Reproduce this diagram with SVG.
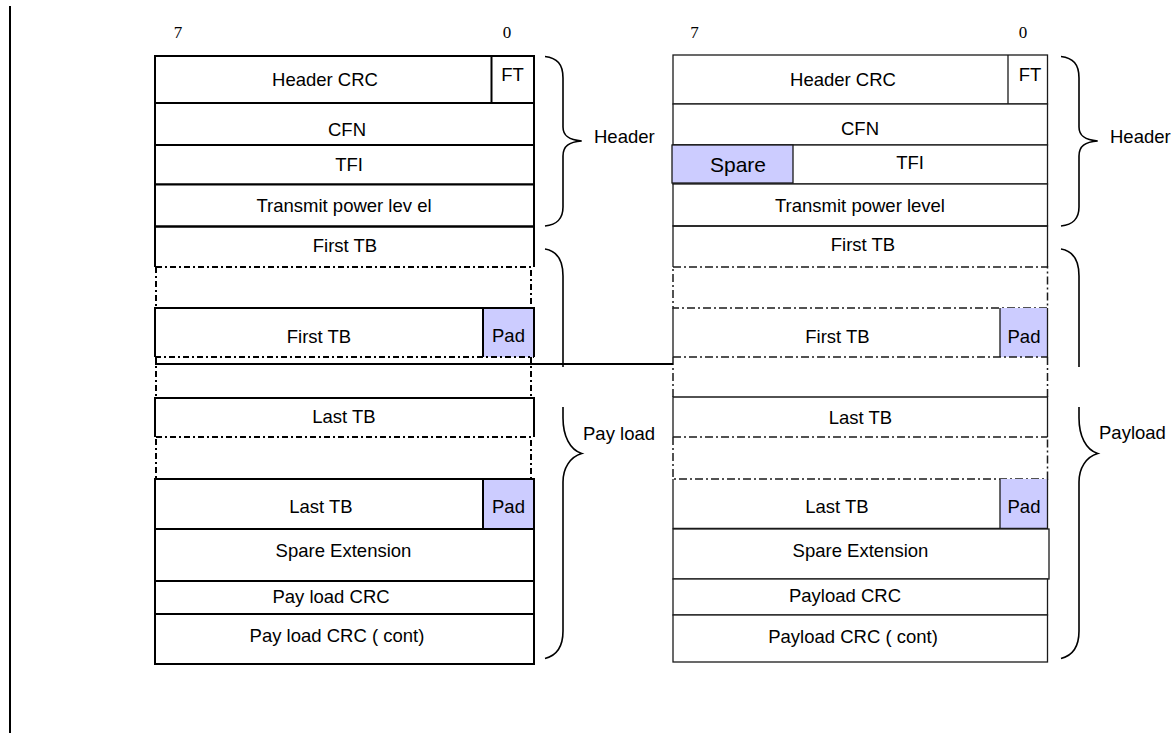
<svg xmlns="http://www.w3.org/2000/svg" width="1173" height="733" viewBox="0 0 1173 733">
  <style>
    .bg { fill: #ffffff; }
    .cellL { fill: #ffffff; stroke: #000000; stroke-width: 2; }
    .cellR { fill: #ffffff; stroke: #1a1a1a; stroke-width: 1.3; }
    .openL { fill: none; stroke: #000000; stroke-width: 2; }
    .openR { fill: none; stroke: #1a1a1a; stroke-width: 1.3; }
    .dashL { fill: none; stroke: #000000; stroke-width: 2; stroke-dasharray: 6 3 2 3; }
    .dashR { fill: none; stroke: #1a1a1a; stroke-width: 1.5; stroke-dasharray: 8 3 2 3; }
    .pad { fill: #ccccff; }
    .padL { fill: #ccccff; stroke: #000000; stroke-width: 2; }
    .padR { fill: #ccccff; stroke: #1a1a1a; stroke-width: 1.3; }
    .brace { fill: none; stroke: #000000; stroke-width: 1.6; }
    .rule { stroke: #000000; stroke-width: 2; }
    .t { font-family: "Liberation Sans", Arial, sans-serif; font-size: 18.5px; fill: #000000; text-anchor: middle; }
    .lbl { font-family: "Liberation Sans", Arial, sans-serif; font-size: 18.5px; fill: #000000; }
    .big { font-family: "Liberation Sans", Arial, sans-serif; font-size: 21px; fill: #000000; text-anchor: middle; }
    .bit { font-family: "Liberation Serif", "Times New Roman", serif; font-size: 17px; fill: #000000; text-anchor: middle; }
  </style>

  <rect class="bg" x="0" y="0" width="1173" height="733"/>

  <!-- margin rule on the far left -->
  <line class="rule" x1="10" y1="6" x2="10" y2="733"/>

  <!-- ===== Left frame layout ===== -->
  <g id="left-frame">
    <text class="bit" x="178" y="38">7</text>
    <text class="bit" x="507" y="38">0</text>

    <g id="L-header-crc">
      <rect class="cellL" x="155" y="56" width="379" height="47"/>
      <line class="openL" x1="491.5" y1="56" x2="491.5" y2="103"/>
      <text class="t" x="325" y="86">Header CRC</text>
      <text class="t" x="512.5" y="81">FT</text>
    </g>
    <g id="L-cfn">
      <rect class="cellL" x="155" y="103" width="379" height="42"/>
      <text class="t" x="347" y="136">CFN</text>
    </g>
    <g id="L-tfi">
      <rect class="cellL" x="155" y="145" width="379" height="39.5"/>
      <text class="t" x="349" y="171">TFI</text>
    </g>
    <g id="L-tx-power">
      <rect class="cellL" x="155" y="184.5" width="379" height="42"/>
      <text class="t" x="344" y="212">Transmit power lev el</text>
    </g>
    <g id="L-first-tb">
      <path class="openL" d="M155,267 V226.5 H534 V267"/>
      <text class="t" x="345" y="252">First TB</text>
    </g>
    <g id="L-gap-a">
      <rect class="dashL" x="156" y="267" width="375" height="41"/>
    </g>
    <g id="L-first-tb-pad">
      <rect class="pad" x="483" y="308" width="51" height="49"/>
      <path class="openL" d="M155,357 V308 H534 V357"/>
      <line class="openL" x1="483" y1="308" x2="483" y2="357"/>
      <line class="dashL" x1="155" y1="357" x2="534" y2="357"/>
      <text class="t" x="319" y="343">First TB</text>
      <text class="t" x="508.5" y="342">Pad</text>
    </g>
    <g id="L-gap-b">
      <path class="dashL" d="M156,357 V398 M531,357 V398"/>
    </g>
    <g id="L-last-tb">
      <path class="openL" d="M155,437 V398 H534 V437"/>
      <line class="dashL" x1="155" y1="398" x2="534" y2="398"/>
      <text class="t" x="344" y="423">Last TB</text>
    </g>
    <g id="L-gap-c">
      <rect class="dashL" x="156" y="437" width="375" height="42"/>
    </g>
    <g id="L-last-tb-pad">
      <rect class="cellL" x="155" y="479" width="379" height="50"/>
      <rect class="padL" x="483" y="479" width="51" height="50"/>
      <text class="t" x="321" y="513">Last TB</text>
      <text class="t" x="508.5" y="513">Pad</text>
    </g>
    <g id="L-spare-ext">
      <rect class="cellL" x="155" y="529" width="379" height="52"/>
      <text class="t" x="343.5" y="557">Spare Extension</text>
    </g>
    <g id="L-payload-crc">
      <rect class="cellL" x="155" y="581" width="379" height="33"/>
      <text class="t" x="331" y="603">Pay load CRC</text>
    </g>
    <g id="L-payload-crc-cont">
      <rect class="cellL" x="155" y="614" width="379" height="50"/>
      <text class="t" x="337" y="642">Pay load CRC ( cont)</text>
    </g>

    <text class="lbl" x="594" y="143">Header</text>
    <text class="lbl" x="583" y="440">Pay load</text>
  </g>

  <!-- ===== Right frame layout ===== -->
  <g id="right-frame">
    <text class="bit" x="694.5" y="38">7</text>
    <text class="bit" x="1023" y="38">0</text>

    <g id="R-header-crc">
      <rect class="cellR" x="673" y="55" width="374.5" height="49"/>
      <line class="openR" x1="1008" y1="55" x2="1008" y2="104"/>
      <text class="t" x="843" y="86">Header CRC</text>
      <text class="t" x="1030" y="81">FT</text>
    </g>
    <g id="R-cfn">
      <rect class="cellR" x="673" y="104" width="374.5" height="41"/>
      <text class="t" x="860" y="135">CFN</text>
    </g>
    <g id="R-tfi">
      <rect class="cellR" x="673" y="145" width="374.5" height="39"/>
      <text class="t" x="910" y="169">TFI</text>
    </g>
    <g id="R-spare">
      <rect class="padR" x="672" y="145" width="121" height="38"/>
      <text class="big" x="738" y="172">Spare</text>
    </g>
    <g id="R-tx-power">
      <rect class="cellR" x="673" y="184" width="374.5" height="42"/>
      <text class="t" x="860" y="212">Transmit power level</text>
    </g>
    <g id="R-first-tb">
      <path class="openR" d="M673,267 V226 H1047.5 V267"/>
      <text class="t" x="863" y="251">First TB</text>
    </g>
    <g id="R-gap-a">
      <rect class="dashR" x="673" y="267" width="374.5" height="41"/>
    </g>
    <g id="R-first-tb-pad">
      <rect class="pad" x="1000" y="308" width="47.5" height="49"/>
      <path class="openR" d="M673,357 V308 M1047.5,308 V357"/>
      <line class="openR" x1="1000" y1="308" x2="1000" y2="357"/>
      <line class="dashR" x1="673" y1="357" x2="1047.5" y2="357"/>
      <text class="t" x="837.5" y="343">First TB</text>
      <text class="t" x="1024" y="343">Pad</text>
    </g>
    <g id="R-gap-b">
      <path class="dashR" d="M673,357 V397 M1047.5,357 V397"/>
    </g>
    <g id="R-last-tb">
      <path class="openR" d="M673,437 V397 H1047.5 V437"/>
      <line class="dashR" x1="673" y1="437" x2="1047.5" y2="437"/>
      <text class="t" x="860.5" y="424">Last TB</text>
    </g>
    <g id="R-gap-c">
      <path class="dashR" d="M673,437 V479 H1047.5 V437"/>
    </g>
    <g id="R-last-tb-pad">
      <rect class="pad" x="1000" y="479" width="47.5" height="49.5"/>
      <path class="openR" d="M673,479 V528.5 H1047.5 V479"/>
      <line class="openR" x1="1000" y1="479" x2="1000" y2="528.5"/>
      <text class="t" x="837" y="513">Last TB</text>
      <text class="t" x="1024" y="513">Pad</text>
    </g>
    <g id="R-spare-ext">
      <rect class="cellR" x="673" y="529" width="376" height="50"/>
      <text class="t" x="860.5" y="557">Spare Extension</text>
    </g>
    <g id="R-payload-crc">
      <rect class="cellR" x="673" y="579" width="374.5" height="36"/>
      <text class="t" x="845" y="602">Payload CRC</text>
    </g>
    <g id="R-payload-crc-cont">
      <rect class="cellR" x="673" y="615" width="374.5" height="47"/>
      <text class="t" x="853" y="643">Payload CRC ( cont)</text>
    </g>

    <text class="lbl" x="1110" y="143">Header</text>
    <text class="lbl" x="1099" y="439">Payload</text>
  </g>

  <!-- ===== Braces and the long separator rule ===== -->
  <defs>
    <path id="brace-header" d="M545,56.5 C557,58 563,64 563,78 L563,127 C563,136 569,140 581.7,141 C569,142 563,146 563,156 L563,207 C563,219 557,224.5 545,226"/>
    <path id="brace-payload-top" d="M545,249 C557,251 563,259 563,276 L563,367"/>
    <path id="brace-payload-bottom" d="M563,407 L563,418 C563,436 570,450 581.7,453.5 C570,457 563,468 563,482 L563,631 C563,647 557,655.5 545,658.5"/>
  </defs>
  <g id="connectors">
    <line class="rule" x1="155" y1="364" x2="673" y2="364"/>
    <use href="#brace-header" class="brace"/>
    <use href="#brace-payload-top" class="brace"/>
    <use href="#brace-payload-bottom" class="brace"/>
    <g transform="translate(516,0)">
      <use href="#brace-header" class="brace"/>
      <use href="#brace-payload-top" class="brace"/>
      <use href="#brace-payload-bottom" class="brace"/>
    </g>
  </g>
</svg>
